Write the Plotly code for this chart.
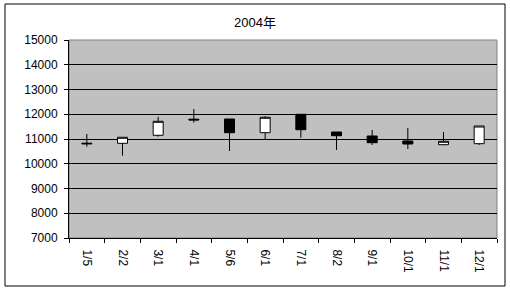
import plotly.graph_objects as go

dates = ["1/5", "2/2", "3/1", "4/1", "5/6", "6/1", "7/1", "8/2", "9/1", "10/1", "11/1", "12/1"]
open_ = [10800, 10826, 11150, 11800, 11808, 11255, 11998, 11283, 11121, 10919, 10770, 10810]
high = [11202, 11080, 11901, 12212, 11808, 11929, 12000, 11283, 11364, 11444, 11283, 11525]
low = [10689, 10325, 11095, 11659, 10515, 10988, 11053, 10556, 10758, 10596, 10750, 10758]
close = [10825, 11069, 11715, 11770, 11255, 11877, 11376, 11133, 10851, 10798, 10907, 11525]
yticks = [7000, 8000, 9000, 10000, 11000, 12000, 13000, 14000, 15000]
ytick_text = [str(v) for v in yticks]

W, H = 510, 291
L, R, T, B = 69, 13, 40, 53
pw, ph = W - L - R, H - T - B

def px(x):
    return (x - L) / pw

def py(y):
    return (H - B - y) / ph

fig = go.Figure(go.Candlestick(
    x=dates, open=open_, high=high, low=low, close=close,
    increasing=dict(fillcolor="white", line=dict(color="black", width=1)),
    decreasing=dict(fillcolor="black", line=dict(color="black", width=1)),
    whiskerwidth=0,
    showlegend=False,
))

fig.update_layout(
    width=W, height=H,
    margin=dict(l=L, r=R, t=T, b=B),
    paper_bgcolor="white",
    plot_bgcolor="#C0C0C0",
    font=dict(family="Liberation Sans, Arial, sans-serif", size=12, color="black"),
    title=dict(text="2004年", x=0.5, xref="container", xanchor="center",
               y=1 - 22 / H, yref="container", yanchor="middle",
               font=dict(family="Liberation Sans, Noto Sans CJK JP, sans-serif", size=13, color="black")),
    boxgap=0.6,
    xaxis=dict(type="category", rangeslider=dict(visible=False), showgrid=False,
               tickangle=90, ticks="outside", ticklen=4, tickcolor="black",
               tickson="boundaries", showline=True, linecolor="black", linewidth=1,
               ticklabelstandoff=8, tickfont=dict(size=12)),
    yaxis=dict(range=[7000, 15000], tickvals=yticks, ticktext=ytick_text,
               showgrid=True, gridcolor="black",
               gridwidth=1, ticks="outside", ticklen=4, tickcolor="black",
               showline=True, linecolor="black", linewidth=1, zeroline=False,
               ticklabelstandoff=4, tickfont=dict(size=12)),
    shapes=[
        dict(type="rect", xref="paper", yref="paper", x0=0, x1=1, y0=0, y1=1,
             line=dict(color="#808080", width=1), layer="below"),
        dict(type="rect", xref="paper", yref="paper",
             x0=px(5), x1=px(505), y0=py(286), y1=py(4),
             line=dict(color="black", width=1)),
    ],
)

fig.write_html("out.html")
